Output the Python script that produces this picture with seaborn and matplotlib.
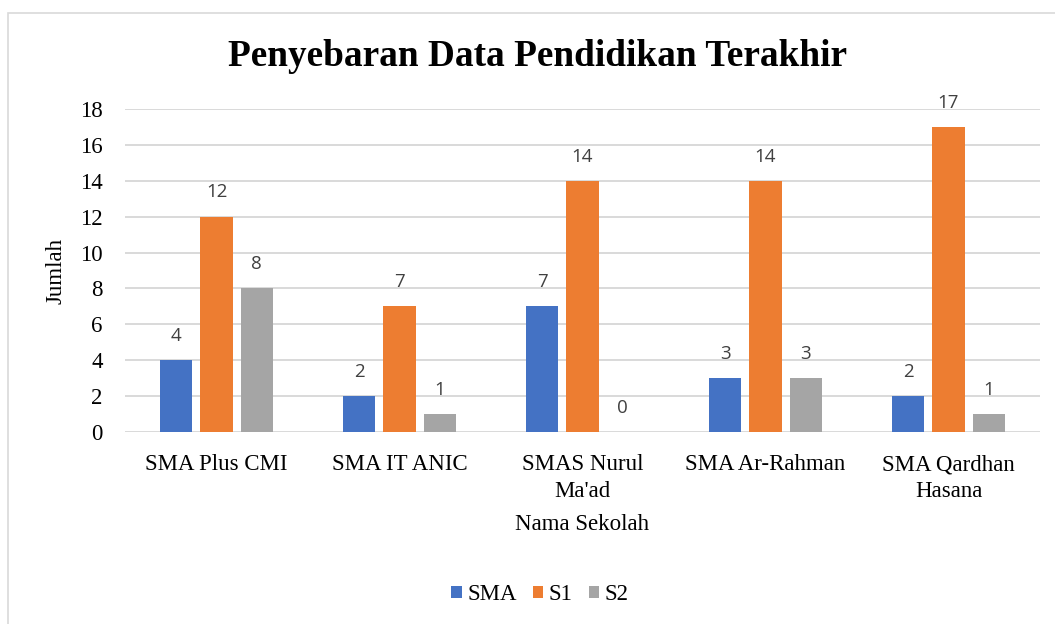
import pandas as pd
import matplotlib.pyplot as plt
import matplotlib.patches as mpatches
import seaborn as sns

# data
sekolah = ["SMA Plus CMI", "SMA IT ANIC", "SMAS Nurul\nMa'ad", "SMA Ar-Rahman", "SMA Qardhan\nHasana"]
sma = [4, 2, 7, 3, 2]
s1 = [12, 7, 14, 14, 17]
s2 = [8, 1, 0, 3, 1]
levels = ["SMA", "S1", "S2"]
colors = ["#4472C4", "#ED7D31", "#A5A5A5"]

df = pd.DataFrame({
    "Nama Sekolah": sekolah * 3,
    "Pendidikan": [lv for lv in levels for _ in sekolah],
    "Jumlah": sma + s1 + s2,
})

sns.set_style("white")
plt.rcParams['font.family'] = ['Liberation Serif', 'DejaVu Serif']
plt.rcParams['text.color'] = 'black'
plt.rcParams['axes.labelcolor'] = 'black'
plt.rcParams['xtick.color'] = 'black'
plt.rcParams['ytick.color'] = 'black'

fig = plt.figure(figsize=(10.55, 6.24), dpi=100)
ax = fig.add_axes([125/1055, 1-432/624, 915/1055, 323/624])

sns.barplot(data=df, x="Nama Sekolah", y="Jumlah", hue="Pendidikan",
            palette=colors, width=0.656, gap=0.2, linewidth=0,
            saturation=1, ax=ax, legend=True)

for cont in ax.containers:
    ax.bar_label(cont, fmt="{:.0f}", padding=11, fontsize=13.5,
                 color="#404040", family="Open Sans")

ax.set_ylim(0, 18)
ax.set_yticks(range(0, 19, 2))
ax.set_xlim(-0.5, 4.5)
ax.yaxis.grid(True, color="#D9D9D9", lw=1.4)
ax.set_axisbelow(True)
sns.despine(ax=ax, left=True, bottom=True, top=True, right=True)
ax.tick_params(axis="y", length=0, pad=16, labelsize=16.5)
ax.tick_params(axis="x", length=0, pad=16, labelsize=16.5)
for lab in ax.get_xticklabels():
    lab.set_linespacing(1.35)

ax.set_xlabel("Nama Sekolah", fontsize=16.5, labelpad=9)
ax.set_ylabel("Jumlah", fontsize=16.5, labelpad=10)

fig.text(538/1055, 1-57/624, "Penyebaran Data Pendidikan Terakhir",
         ha="center", va="center", fontsize=26.8, fontweight="bold")

ax.legend(loc="center", bbox_to_anchor=(540/1055, 1-595/624),
          bbox_transform=fig.transFigure, ncol=3, frameon=False,
          fontsize=16.5, handlelength=0.45, handleheight=0.45,
          handletextpad=0.25, columnspacing=0.7, title=None)

fig.patches.append(mpatches.Rectangle((8/1055, -0.02), 1.1, (624-13)/624 + 0.02,
                                      transform=fig.transFigure, fill=False,
                                      edgecolor="#D9D9D9", lw=1.2))

fig.savefig("out.png", dpi=100)
